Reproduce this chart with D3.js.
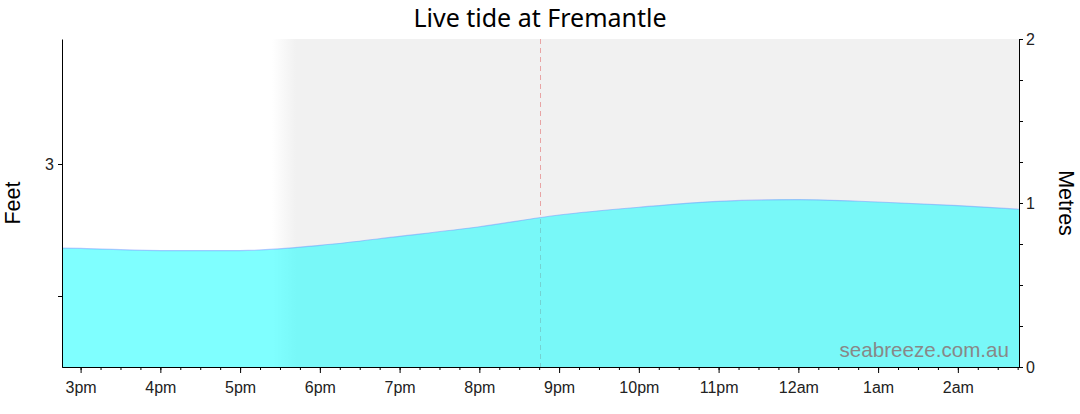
<!DOCTYPE html>
<html>
<head>
<meta charset="utf-8">
<script src="https://cdn.jsdelivr.net/npm/d3@7"></script>
<style>
  body { margin: 0; background: #fff; }
  svg { display: block; }
</style>
</head>
<body>
<div id="chart"></div>
<script>
// tide readings (local time) and heights in metres
var tideTimes = ["14:46", "15:00", "16:00", "17:00", "18:00", "19:00", "20:00", "21:00",
                 "22:00", "23:00", "00:00", "01:00", "02:00", "02:46"];
var tideMetres = [0.725, 0.723, 0.71, 0.71, 0.742, 0.797, 0.855, 0.927,
                  0.974, 1.01, 1.021, 1.006, 0.984, 0.962];
var nowTime = "20:46";
var nightFade = ["17:24", "17:42"];
var domainTimes = ["14:46", "02:46"];
var metreTicks = [0, 0.25, 0.5, 0.75, 1, 1.25, 1.5, 1.75, 2];
var metreLabels = [0, 1, 2];
var feetTicks = [2, 3];
var feetLabels = [3];

var width = 1080, height = 414;
var margin = {top: 39, right: 61, bottom: 47, left: 62};
var w = width - margin.left - margin.right;
var h = height - margin.top - margin.bottom;

function toDate(s) {
  var p = s.split(":");
  var hr = +p[0];
  var day = hr < 12 ? 16 : 15;
  return new Date(2024, 0, day, hr, +p[1]);
}

var data = tideTimes.map(function(t, i){ return {t: toDate(t), m: tideMetres[i]}; });

var x = d3.scaleTime().domain(domainTimes.map(toDate)).range([0, w]);
var yM = d3.scaleLinear().domain([0, 2]).range([h, 0]);
// feet axis: 3 ft tick at 125px below top, 132px per foot
var yF = d3.scaleLinear().domain([3 - (h - 125) / 132, 3 + 125 / 132]).range([h, 0]);

var svg = d3.select("#chart").append("svg")
  .attr("width", width).attr("height", height);

var defs = svg.append("defs");
var grad = defs.append("linearGradient").attr("id", "nightGrad")
  .attr("gradientUnits", "userSpaceOnUse")
  .attr("x1", x(toDate(nightFade[0]))).attr("x2", x(toDate(nightFade[1])))
  .attr("y1", 0).attr("y2", 0);
grad.append("stop").attr("offset", 0).attr("stop-color", "#f1f1f1").attr("stop-opacity", 0);
grad.append("stop").attr("offset", 1).attr("stop-color", "#f1f1f1").attr("stop-opacity", 1);

var g = svg.append("g").attr("transform", "translate(" + margin.left + "," + margin.top + ")");

// night shading
g.append("rect")
  .attr("x", x(toDate(nightFade[0])))
  .attr("y", 0)
  .attr("width", w - x(toDate(nightFade[0])))
  .attr("height", h)
  .attr("fill", "url(#nightGrad)");

// current time marker
g.append("line")
  .attr("x1", x(toDate(nowTime))).attr("x2", x(toDate(nowTime)))
  .attr("y1", 0).attr("y2", h)
  .attr("stroke", "#e8a4a4")
  .attr("stroke-width", 1)
  .attr("stroke-dasharray", "5,4");

// tide area
var area = d3.area()
  .x(function(d){ return x(d.t); })
  .y0(h)
  .y1(function(d){ return yM(d.m); })
  .curve(d3.curveMonotoneX);
var line = d3.line()
  .x(function(d){ return x(d.t); })
  .y(function(d){ return yM(d.m); })
  .curve(d3.curveMonotoneX);

g.append("path").datum(data)
  .attr("d", area)
  .attr("fill", "rgba(0,255,255,0.5)");
g.append("path").datum(data)
  .attr("d", line)
  .attr("fill", "none")
  .attr("stroke", "rgba(110,140,255,0.45)")
  .attr("stroke-width", 1.2);

// watermark
g.append("text")
  .attr("x", w - 10).attr("y", h - 10)
  .attr("text-anchor", "end")
  .style("font-family", "Arial, 'Liberation Sans', sans-serif")
  .style("font-size", "20.6px")
  .style("fill", "#888")
  .text("seabreeze.com.au");

var fmt = d3.timeFormat("%-I%p");

// bottom axis: minor then major
g.append("g").attr("class", "axis")
  .attr("transform", "translate(0," + h + ")")
  .call(d3.axisBottom(x).ticks(d3.timeMinute.every(15)).tickSize(3).tickSizeOuter(0).tickFormat(""));
g.append("g").attr("class", "axis")
  .attr("transform", "translate(0," + h + ")")
  .call(d3.axisBottom(x).ticks(d3.timeHour.every(1)).tickSize(6).tickSizeOuter(0).tickPadding(9)
    .tickFormat(function(d){ return fmt(d).toLowerCase(); }));

// left axis (feet)
g.append("g").attr("class", "axis")
  .call(d3.axisLeft(yF).tickValues(feetTicks).tickSize(4).tickSizeOuter(0).tickPadding(4)
    .tickFormat(function(d){ return feetLabels.indexOf(d) >= 0 ? d : ""; }));

// right axis (metres)
g.append("g").attr("class", "axis")
  .attr("transform", "translate(" + w + ",0)")
  .call(d3.axisRight(yM).tickValues(metreTicks).tickSize(4).tickSizeOuter(0).tickPadding(3)
    .tickFormat(function(d){ return metreLabels.indexOf(d) >= 0 ? d : ""; }));

svg.selectAll(".axis text")
  .style("font-family", "Arial, 'Liberation Sans', sans-serif")
  .style("font-size", "16px")
  .style("fill", "#222");
svg.selectAll(".axis path, .axis line").attr("stroke", "#000");

// title
svg.append("text")
  .attr("x", 540).attr("y", 27)
  .attr("text-anchor", "middle")
  .style("font-family", "'Noto Sans', 'Open Sans', sans-serif")
  .style("font-size", "25px")
  .style("fill", "#000")
  .text("Live tide at Fremantle");

// axis titles
svg.append("text")
  .attr("transform", "translate(20," + (margin.top + h / 2) + ") rotate(-90)")
  .attr("text-anchor", "middle")
  .style("font-family", "Arial, 'Liberation Sans', sans-serif")
  .style("font-size", "21.5px")
  .text("Feet");
svg.append("text")
  .attr("transform", "translate(1059," + (margin.top + h / 2) + ") rotate(90)")
  .attr("text-anchor", "middle")
  .style("font-family", "Arial, 'Liberation Sans', sans-serif")
  .style("font-size", "21.5px")
  .text("Metres");
</script>
</body>
</html>
